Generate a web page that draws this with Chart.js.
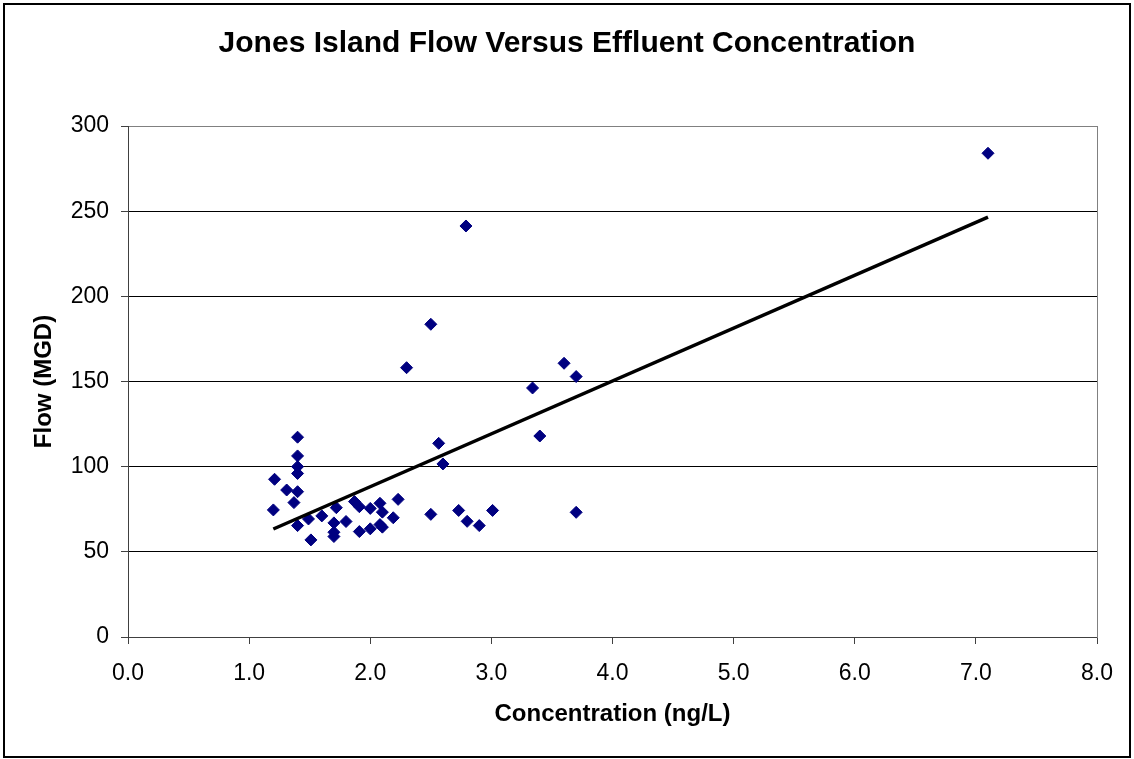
<!DOCTYPE html>
<html>
<head>
<meta charset="utf-8">
<script src="https://cdn.jsdelivr.net/npm/chart.js@4.4.1/dist/chart.umd.min.js"></script>
<style>
  html, body { margin: 0; padding: 0; background: #ffffff; }
  #wrap { width: 1134px; height: 759px; position: relative; }
</style>
</head>
<body>
<div id="wrap"><canvas id="c" width="1134" height="759"></canvas></div>
<script>
// Concentration (ng/L) values
const concentration = [
  1.20, 1.21, 1.31, 1.37, 1.40, 1.40, 1.40, 1.40, 1.40, 1.40,
  1.49, 1.51, 1.60, 1.72, 1.70, 1.70, 1.70, 1.80, 1.87, 1.91,
  1.91, 2.00, 2.00, 2.08, 2.10, 2.08, 2.10, 2.19, 2.23, 2.30,
  2.50, 2.50, 2.565, 2.60, 2.73, 2.79, 2.80, 2.90, 3.01, 3.34,
  3.40, 3.60, 3.70, 3.70, 7.10
];
// Flow (MGD) values
const flow = [
  74.6, 92.6, 86.3, 78.9, 117.3, 106.3, 100, 96, 85.3, 65.4,
  69.3, 57, 71.1, 75.9, 67, 61.5, 59, 67.8, 79.5, 76.5,
  61.9, 75.5, 63.5, 78.5, 73.3, 66, 64.5, 70, 80.8, 158.1,
  183.6, 72, 113.7, 101.6, 74.3, 241.3, 67.9, 65.4, 74.3, 146.2,
  118, 160.7, 152.9, 73.2, 284
];
// Linear trendline end points
const trendX = [1.2, 7.1];
const trendY = [63.4, 246.5];

const xTicks = [0, 1, 2, 3, 4, 5, 6, 7, 8];
const yTicks = [0, 50, 100, 150, 200, 250, 300];

const FONT = "'Liberation Sans', Arial, Helvetica, sans-serif";

const scatterPts = concentration.map((x, i) => ({ x: x, y: flow[i] }));
const trendPts = trendX.map((x, i) => ({ x: x, y: trendY[i] }));

const frame = {
  id: 'frame',
  beforeDraw(chart) {
    const ctx = chart.ctx;
    ctx.save();
    ctx.fillStyle = '#ffffff';
    ctx.fillRect(0, 0, chart.width, chart.height);
    ctx.restore();
  },
  afterDraw(chart) {
    const ctx = chart.ctx;
    ctx.save();
    ctx.strokeStyle = '#000000';
    ctx.lineWidth = 2;
    ctx.strokeRect(4, 4, 1126, 753);
    ctx.restore();
  }
};

new Chart(document.getElementById('c'), {
  type: 'scatter',
  data: {
    datasets: [
      {
        label: 'Linear trend',
        data: trendPts,
        showLine: true,
        borderColor: '#000000',
        borderWidth: 3.5,
        pointRadius: 0,
        fill: false,
        order: 0
      },
      {
        label: 'Flow',
        data: scatterPts,
        pointStyle: 'rectRot',
        pointRadius: 6,
        pointBackgroundColor: '#000080',
        pointBorderColor: '#000080',
        pointBorderWidth: 1,
        order: 1
      }
    ]
  },
  options: {
    responsive: false,
    animation: false,
    devicePixelRatio: 1,
    layout: { padding: 0 },
    plugins: {
      legend: { display: false },
      tooltip: { enabled: false },
      title: {
        display: true,
        text: 'Jones Island Flow Versus Effluent Concentration',
        color: '#000000',
        font: { family: FONT, size: 30, weight: 'bold' },
        padding: { top: 26, bottom: 64 }
      }
    },
    scales: {
      x: {
        type: 'linear',
        position: 'bottom',
        min: 0,
        max: 8,
        afterBuildTicks(scale) { scale.ticks = xTicks.map(v => ({ value: v })); },
        afterFit(scale) { scale.height = 122; },
        ticks: {
          color: '#000000',
          font: { family: FONT, size: 23 },
          padding: 16,
          maxRotation: 0,
          callback: v => Number(v).toFixed(1)
        },
        grid: {
          display: true,
          drawOnChartArea: false,
          drawTicks: true,
          tickLength: 7,
          color: '#404040',
          tickColor: '#404040'
        },
        border: { display: true, color: '#404040', width: 1 },
        title: {
          display: true,
          text: 'Concentration (ng/L)',
          color: '#000000',
          font: { family: FONT, size: 24, weight: 'bold' },
          padding: { top: 0, bottom: 30 }
        }
      },
      y: {
        type: 'linear',
        position: 'left',
        min: 0,
        max: 300,
        afterBuildTicks(scale) { scale.ticks = yTicks.map(v => ({ value: v })); },
        afterFit(scale) { scale.width = 128; },
        ticks: {
          color: '#000000',
          font: { family: FONT, size: 23 },
          padding: 12
        },
        grid: {
          display: true,
          drawOnChartArea: true,
          drawTicks: true,
          tickLength: 7,
          lineWidth: 1,
          color: ctx => (ctx.tick && ctx.tick.value === 300) ? '#808080' : '#000000',
          tickColor: '#404040'
        },
        border: { display: true, color: '#404040', width: 1 },
        title: {
          display: true,
          text: 'Flow (MGD)',
          color: '#000000',
          font: { family: FONT, size: 24, weight: 'bold' },
          padding: { top: 30, bottom: 0 }
        }
      },
      yRight: {
        type: 'linear',
        position: 'right',
        display: true,
        afterFit(scale) { scale.width = 37; },
        ticks: { display: false },
        grid: { display: false, drawTicks: false },
        border: { display: true, color: '#808080', width: 1 },
        title: { display: false }
      }
    }
  },
  plugins: [frame]
});
</script>
</body>
</html>
